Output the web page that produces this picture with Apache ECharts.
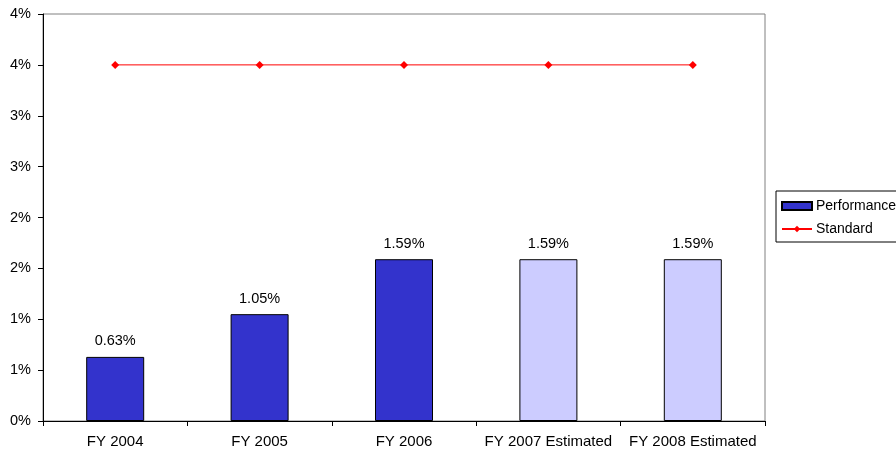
<!DOCTYPE html>
<html>
<head>
<meta charset="utf-8">
<script src="https://cdn.jsdelivr.net/npm/echarts@6/dist/echarts.min.js"></script>
<style>
  html, body { margin: 0; padding: 0; background: #fff; }
  #main { width: 896px; height: 451px; }
</style>
</head>
<body>
<div id="main"></div>
<script>
var categories = ['FY 2004', 'FY 2005', 'FY 2006', 'FY 2007 Estimated', 'FY 2008 Estimated'];
var performance = [0.63, 1.05, 1.59, 1.59, 1.59];
var standard = [3.5, 3.5, 3.5, 3.5, 3.5];
// y ticks every 0.5, labels rounded to whole percents like the original
var yTickLabels = ['0%', '1%', '1%', '2%', '2%', '3%', '3%', '4%', '4%'];

var font = 'Liberation Sans, Arial, sans-serif';

var chart = echarts.init(document.getElementById('main'));

var barData = performance.map(function (v, i) {
    var est = categories[i].indexOf('Estimated') >= 0;
    return {
        value: v,
        itemStyle: { color: est ? '#CCCCFF' : '#3333CC' }
    };
});

var option = {
    animation: false,
    textStyle: { fontFamily: font },
    grid: {
        left: 43,
        right: 131,
        top: 14,
        bottom: 30,
        show: true,
        borderColor: '#808080',
        borderWidth: 1,
        backgroundColor: '#fff'
    },
    legend: {
        orient: 'vertical',
        left: 776,
        top: 191,
        padding: [8, 30, 6, 5],
        itemGap: 9,
        itemWidth: 30,
        itemHeight: 8,
        borderColor: '#000',
        borderWidth: 1,
        textStyle: { fontSize: 14, color: '#000', fontFamily: font, padding: [0, 0, 0, -1] },
        data: [{ name: 'Performance', icon: 'rect' }, { name: 'Standard' }]
    },
    xAxis: {
        type: 'category',
        data: categories,
        boundaryGap: true,
        axisLine: { lineStyle: { color: '#000', width: 1 } },
        axisTick: { show: true, length: 5, lineStyle: { color: '#000' } },
        axisLabel: { fontSize: 15, color: '#000', margin: 13, fontFamily: font, interval: 0 }
    },
    yAxis: {
        type: 'value',
        min: 0,
        max: 4,
        interval: 0.5,
        axisLine: { show: true, lineStyle: { color: '#000', width: 1 } },
        axisTick: { show: true, length: 5, lineStyle: { color: '#000' } },
        splitLine: { show: false },
        axisLabel: {
            fontSize: 14.5,
            color: '#000',
            margin: 12,
            fontFamily: font,
            formatter: function (v) { return yTickLabels[Math.round(v / 0.5)]; }
        }
    },
    series: [
        {
            name: 'Performance',
            type: 'bar',
            barWidth: 58,
            data: barData,
            itemStyle: { color: '#3333CC', borderColor: '#000', borderWidth: 1 },
            label: {
                show: true,
                position: 'top',
                distance: 8,
                fontSize: 14.5,
                color: '#000',
                fontFamily: font,
                formatter: function (p) { return p.value.toFixed(2) + '%'; }
            }
        },
        {
            name: 'Standard',
            type: 'line',
            data: standard,
            symbol: 'diamond',
            symbolSize: 8,
            lineStyle: { color: '#FF0000', width: 1 },
            itemStyle: { color: '#FF0000' }
        }
    ]
};

chart.setOption(option);
</script>
</body>
</html>
